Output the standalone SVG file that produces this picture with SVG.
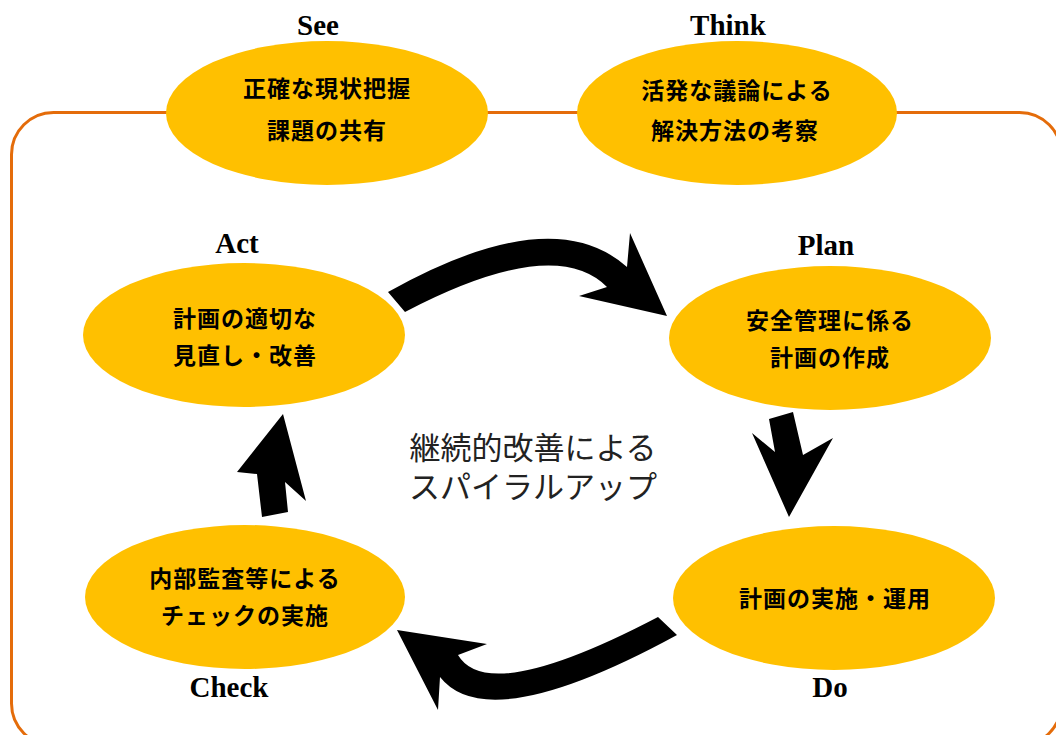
<svg xmlns="http://www.w3.org/2000/svg" width="1056" height="735" viewBox="0 0 1056 735">
<style>
.node ellipse{fill:#FFC000;}
.t{font-family:"Noto Sans CJK JP","Noto Sans CJK SC",sans-serif;font-weight:bold;font-size:23px;fill:#000;text-anchor:middle;letter-spacing:1px;}
.lbl{font-family:"Liberation Serif",serif;font-weight:bold;font-size:29px;fill:#000;text-anchor:middle;}
.ctr{font-family:"Noto Sans CJK JP","Noto Sans CJK SC",sans-serif;font-size:31px;fill:#222;text-anchor:middle;}
.arr{fill:#000;}
</style>
<rect id="frame" x="11.5" y="112.5" width="1050" height="633" rx="42" fill="none" stroke="#E46C0A" stroke-width="3"/>
<g id="see" class="node">
<ellipse cx="327" cy="113" rx="161" ry="72"/>
<text class="lbl" x="318" y="35">See</text>
<text class="t" x="327" y="97">正確な現状把握</text>
<text class="t" x="327" y="139">課題の共有</text>
</g>
<g id="think" class="node">
<ellipse cx="737" cy="113" rx="160" ry="72"/>
<text class="lbl" x="728" y="35">Think</text>
<text class="t" x="737" y="99">活発な議論による</text>
<text class="t" x="735" y="139">解決方法の考察</text>
</g>
<g id="act" class="node">
<ellipse cx="244" cy="335" rx="161" ry="72"/>
<text class="lbl" x="237" y="253">Act</text>
<text class="t" x="245" y="327">計画の適切な</text>
<text class="t" x="245" y="364">見直し・改善</text>
</g>
<g id="plan" class="node">
<ellipse cx="830" cy="338" rx="161" ry="72"/>
<text class="lbl" x="826" y="255">Plan</text>
<text class="t" x="830" y="329">安全管理に係る</text>
<text class="t" x="830" y="366">計画の作成</text>
</g>
<g id="do" class="node">
<ellipse cx="834" cy="598" rx="161" ry="72"/>
<text class="lbl" x="830" y="697">Do</text>
<text class="t" x="835" y="607">計画の実施・運用</text>
</g>
<g id="check" class="node">
<ellipse cx="245" cy="597" rx="160" ry="72"/>
<text class="lbl" x="229" y="697">Check</text>
<text class="t" x="245" y="587">内部監査等による</text>
<text class="t" x="245" y="624">チェックの実施</text>
</g>
<g id="center">
<text class="ctr" x="533" y="459">継続的改善による</text>
<text class="ctr" x="533" y="498">スパイラルアップ</text>
</g>
<g id="connectors">
<path class="arr" d="M388,292 Q552,200 627,267 L630,233 L667,316 L579,296 L607,287 Q554,234 405,312 Z"/>
<path class="arr" d="M769,419 L793,412 L803,455 L833,438 L789,517 L752,433 L775,452 Z"/>
<path class="arr" d="M658,617 Q488,706 458,655 L487,644 L397,630 L438,710 L440,677 Q488,738 677,635 Z"/>
<path class="arr" d="M262,517 L257,474 L237,472 L283,414 L306,501 L285,482 L288,512 Z"/>
</g>
</svg>
